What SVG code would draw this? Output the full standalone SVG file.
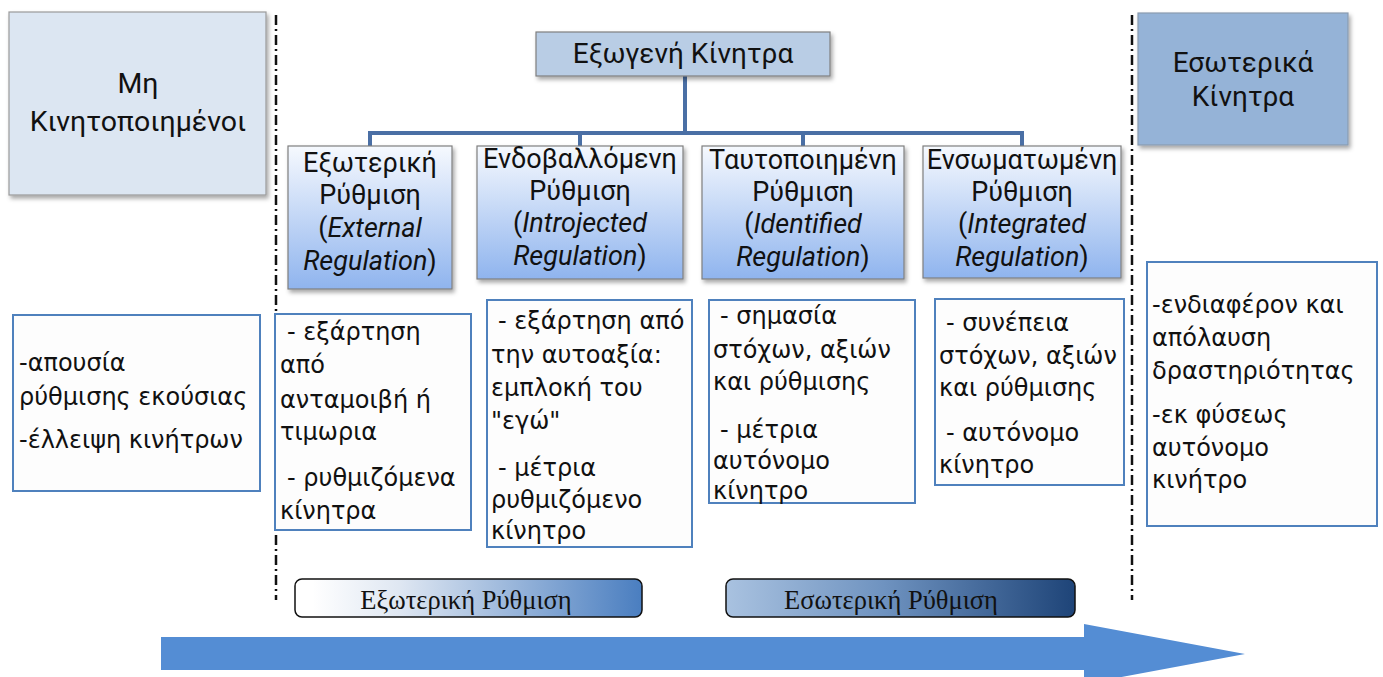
<svg xmlns="http://www.w3.org/2000/svg" width="1383" height="677" viewBox="0 0 1383 677">
  <style>
    .hdr { font-family: Roboto, "Open Sans", sans-serif; fill: #111; text-anchor: middle; }
    .sub { font-family: Roboto, "Open Sans", sans-serif; font-size: 27px; fill: #111; text-anchor: middle; }
    .note { font-family: "DejaVu Sans", "Noto Sans", sans-serif; font-size: 24px; fill: #111; }
    .band { font-family: "Liberation Serif", "DejaVu Serif", serif; font-size: 26.5px; fill: #111; text-anchor: middle; }
    .notebox { fill: #fdfdfd; stroke: #4f81bd; stroke-width: 2; }
    .subbox { fill: url(#subGrad); stroke: #7f7f7f; stroke-width: 1.2; }
    .divider { stroke: #111; stroke-width: 2.5; stroke-dasharray: 10 4 2 4; fill: none; }
    .tree { stroke: #4a6fa5; stroke-width: 4; fill: none; }
  </style>
  <defs>
    <linearGradient id="subGrad" x1="0" y1="0" x2="0" y2="1">
      <stop offset="0" stop-color="#f6f9fe"/>
      <stop offset="1" stop-color="#8fb4ee"/>
    </linearGradient>
    <linearGradient id="extGrad" x1="0" y1="0" x2="1" y2="0">
      <stop offset="0.05" stop-color="#ffffff"/>
      <stop offset="0.3" stop-color="#dfe7f2"/>
      <stop offset="1" stop-color="#4a7ec0"/>
    </linearGradient>
    <linearGradient id="intGrad" x1="0" y1="0" x2="1" y2="0">
      <stop offset="0" stop-color="#a9c2e0"/>
      <stop offset="0.45" stop-color="#6f93c0"/>
      <stop offset="1" stop-color="#1e4478"/>
    </linearGradient>
    <filter id="shadow" x="-10%" y="-10%" width="125%" height="130%">
      <feDropShadow dx="2" dy="3" stdDeviation="2" flood-color="#000" flood-opacity="0.35"/>
    </filter>
  </defs>

  <!-- dividers -->
  <g id="dividers">
    <line class="divider" x1="276" y1="15" x2="276" y2="600"/>
    <line class="divider" x1="1132" y1="15" x2="1132" y2="600"/>
  </g>

  <!-- tree connectors -->
  <g id="connectors">
    <path class="tree" d="M685 76 V133" stroke-width="5"/>
    <path class="tree" d="M370 146 V133 H1022 V146"/>
    <path class="tree" d="M580 133 V146"/>
    <path class="tree" d="M803 133 V146"/>
  </g>

  <g id="amotivated">
    <rect x="9" y="12" width="257" height="183" fill="#dce6f2" stroke="#9a9a9a" stroke-width="1.2" filter="url(#shadow)"/>
    <text class="hdr" font-size="28.5" x="138" y="93">Μη</text>
    <text class="hdr" font-size="28.5" x="138" y="131">Κινητοποιημένοι</text>
  </g>

  <g id="extrinsic">
    <rect x="536" y="32" width="294" height="44" fill="#b9cde5" stroke="#7f7f7f" stroke-width="1.2" filter="url(#shadow)"/>
    <text class="hdr" font-size="28" x="683" y="63">Εξωγενή Κίνητρα</text>
  </g>

  <g id="intrinsic">
    <rect x="1138" y="13" width="210" height="132" fill="#95b3d7" stroke="#8a9bb0" stroke-width="1.2" filter="url(#shadow)"/>
    <text class="hdr" font-size="28" x="1243" y="72">Εσωτερικά</text>
    <text class="hdr" font-size="28" x="1243" y="106">Κίνητρα</text>
  </g>

  <g id="external-regulation">
    <rect class="subbox" x="288" y="146" width="164" height="143" filter="url(#shadow)"/>
    <text class="sub" x="370" y="172">Εξωτερική</text>
    <text class="sub" x="370" y="204">Ρύθμιση</text>
    <text class="sub" x="370" y="237">(<tspan font-style="italic">External</tspan></text>
    <text class="sub" x="370" y="270"><tspan font-style="italic">Regulation</tspan>)</text>
  </g>

  <g id="introjected-regulation">
    <rect class="subbox" x="477" y="146" width="206" height="133" filter="url(#shadow)"/>
    <text class="sub" x="580" y="168">Ενδοβαλλόμενη</text>
    <text class="sub" x="580" y="200">Ρύθμιση</text>
    <text class="sub" x="580" y="232">(<tspan font-style="italic">Introjected</tspan></text>
    <text class="sub" x="580" y="265"><tspan font-style="italic">Regulation</tspan>)</text>
  </g>

  <g id="identified-regulation">
    <rect class="subbox" x="702" y="146" width="202" height="133" filter="url(#shadow)"/>
    <text class="sub" x="803" y="169">Ταυτοποιημένη</text>
    <text class="sub" x="803" y="201">Ρύθμιση</text>
    <text class="sub" x="803" y="233">(<tspan font-style="italic">Identified</tspan></text>
    <text class="sub" x="803" y="266"><tspan font-style="italic">Regulation</tspan>)</text>
  </g>

  <g id="integrated-regulation">
    <rect class="subbox" x="923" y="146" width="198" height="132" filter="url(#shadow)"/>
    <text class="sub" x="1022" y="169">Ενσωματωμένη</text>
    <text class="sub" x="1022" y="201">Ρύθμιση</text>
    <text class="sub" x="1022" y="233">(<tspan font-style="italic">Integrated</tspan></text>
    <text class="sub" x="1022" y="266"><tspan font-style="italic">Regulation</tspan>)</text>
  </g>

  <g id="note-amotivated">
    <rect class="notebox" x="13" y="315" width="247" height="176"/>
    <text class="note" x="19" y="371">-απουσία</text>
    <text class="note" x="19" y="405">ρύθμισης εκούσιας</text>
    <text class="note" x="19" y="448">-έλλειψη κινήτρων</text>
  </g>

  <g id="note-external">
    <rect class="notebox" x="275" y="314" width="196" height="216"/>
    <text class="note" x="287" y="340">- εξάρτηση</text>
    <text class="note" x="280" y="373">από</text>
    <text class="note" x="280" y="408">ανταμοιβή ή</text>
    <text class="note" x="280" y="440">τιμωρια</text>
    <text class="note" x="287" y="486">- ρυθμιζόμενα</text>
    <text class="note" x="280" y="519">κίνητρα</text>
  </g>

  <g id="note-introjected">
    <rect class="notebox" x="487" y="300" width="205" height="247"/>
    <text class="note" x="498" y="329">- εξάρτηση από</text>
    <text class="note" x="491" y="363">την αυτοαξία:</text>
    <text class="note" x="491" y="396">εμπλοκή του</text>
    <text class="note" x="491" y="429">"εγώ"</text>
    <text class="note" x="498" y="476">- μέτρια</text>
    <text class="note" x="491" y="508">ρυθμιζόμενο</text>
    <text class="note" x="491" y="539">κίνητρο</text>
  </g>

  <g id="note-identified">
    <rect class="notebox" x="709" y="300" width="206" height="203"/>
    <text class="note" x="720" y="324">- σημασία</text>
    <text class="note" x="713" y="358">στόχων, αξιών</text>
    <text class="note" x="713" y="390">και ρύθμισης</text>
    <text class="note" x="720" y="438">- μέτρια</text>
    <text class="note" x="713" y="469">αυτόνομο</text>
    <text class="note" x="713" y="499">κίνητρο</text>
  </g>

  <g id="note-integrated">
    <rect class="notebox" x="935" y="299" width="189" height="186"/>
    <text class="note" x="946" y="331">- συνέπεια</text>
    <text class="note" x="939" y="364">στόχων, αξιών</text>
    <text class="note" x="939" y="396">και ρύθμισης</text>
    <text class="note" x="946" y="441">- αυτόνομο</text>
    <text class="note" x="939" y="473">κίνητρο</text>
  </g>

  <g id="note-intrinsic">
    <rect class="notebox" x="1147" y="262" width="230" height="264"/>
    <text class="note" x="1152" y="313">-ενδιαφέρον και</text>
    <text class="note" x="1152" y="346">απόλαυση</text>
    <text class="note" x="1152" y="379">δραστηριότητας</text>
    <text class="note" x="1152" y="423">-εκ φύσεως</text>
    <text class="note" x="1152" y="456">αυτόνομο</text>
    <text class="note" x="1152" y="488">κινήτρο</text>
  </g>

  <g id="band-external">
    <rect x="295" y="579" width="347" height="38" rx="7" fill="url(#extGrad)" stroke="#111" stroke-width="1.5"/>
    <text class="band" x="466" y="609">Εξωτερική Ρύθμιση</text>
  </g>

  <g id="band-internal">
    <rect x="726" y="579" width="349" height="38" rx="7" fill="url(#intGrad)" stroke="#111" stroke-width="1.5"/>
    <text class="band" x="891" y="609">Εσωτερική Ρύθμιση</text>
  </g>

  <g id="continuum-arrow">
    <polygon points="161,637 1084,637 1084,624 1245,654 1084,684 1084,670 161,670" fill="#548dd4"/>
  </g>
</svg>
